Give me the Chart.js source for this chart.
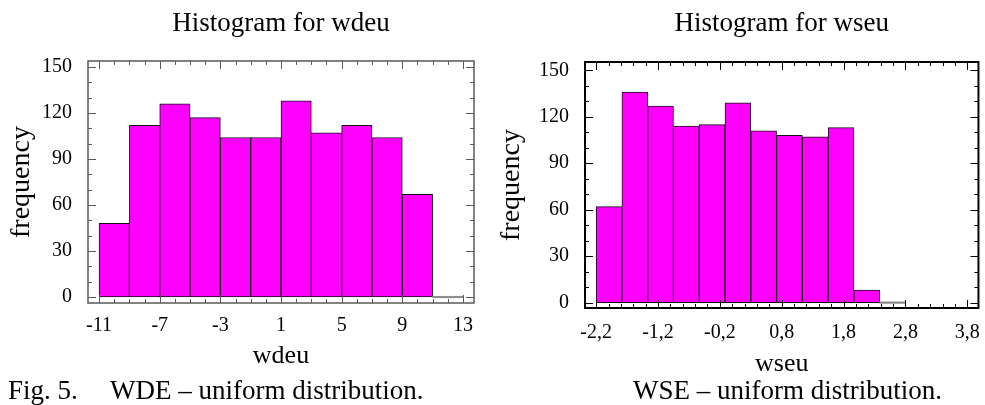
<!DOCTYPE html>
<html lang="en">
<head>
<meta charset="UTF-8">
<title>Histogram for wdeu / wseu</title>
<script src="https://cdn.jsdelivr.net/npm/chart.js"></script>
<style>
    body { margin: 0; background: #fff; width: 985px; height: 405px; overflow: hidden; position: relative; font-family: "Liberation Serif", serif; }
    .graph { position: absolute; top: 0; height: 380px; }
    #g1 { left: 0; width: 490px; }
    #g2 { left: 490px; width: 495px; }
    .legenda { position: absolute; top: 377px; font-size: 27px; line-height: 27px; color: #000; white-space: nowrap; }
</style>
</head>
<body>
<div class="graph" id="g1"><canvas id="chartWde"></canvas></div>
<div class="graph" id="g2"><canvas id="chartWse"></canvas></div>
<div class="legenda" style="left:8px">Fig. 5.</div>
<div class="legenda" style="left:110px">WDE – uniform distribution.</div>
<div class="legenda" style="left:633px">WSE – uniform distribution.</div>

<script>
// wdeu: bins of width 2 starting at -11 (centres)
const wdeCentros = [-10, -8, -6, -4, -2, 0, 2, 4, 6, 8, 10, 12];
const wdeFreq = [48, 112, 126, 117, 104, 104, 128, 107, 112, 104, 67, 0];
const wdeTicks = [-11, -7, -3, 1, 5, 9, 13];
const wdeTickLabels = ['-11', '-7', '-3', '1', '5', '9', '13'];

// wseu: 12 bins between -2,2 and 2,8 (centres)
const wseCentros = [-1.9917, -1.575, -1.1583, -0.7417, -0.325, 0.0917, 0.5083, 0.925, 1.3417, 1.7583, 2.175, 2.5917];
const wseFreq = [62, 136, 127, 114, 115, 129, 111, 108, 107, 113, 8, 0];
const wseTicks = [-2.2, -1.2, -0.2, 0.8, 1.8, 2.8, 3.8];
const wseTickLabels = ['-2,2', '-1,2', '-0,2', '0,8', '1,8', '2,8', '3,8'];

const freqTicks = [0, 30, 60, 90, 120, 150];
const freqTickLabels = ['0', '30', '60', '90', '120', '150'];

const FONTE = 'Liberation Serif';

// box around the plot with small inward ticks on all four sides
const moldura = {
    id: 'moldura',
    afterDatasetsDraw(chart, args, opts) {
        const a = chart.chartArea;
        const sx = chart.scales.x, sy = chart.scales.y;
        const c = chart.ctx;
        c.save();
        c.strokeStyle = opts.cor;
        c.lineWidth = 1;
        c.beginPath();
        for (let i = 0; ; i++) {
            const v = opts.xIni + i * opts.xPasso;
            if (v > sx.max + 1e-9) break;
            const px = Math.round(sx.getPixelForValue(v)) + 0.5;
            const t = i % opts.xDiv === 0 ? 8 : 4;
            c.moveTo(px, a.bottom); c.lineTo(px, a.bottom - t);
            c.moveTo(px, a.top); c.lineTo(px, a.top + t);
        }
        for (let i = 0; ; i++) {
            const v = opts.yIni + i * opts.yPasso;
            if (v > sy.max + 1e-9) break;
            const py = Math.round(sy.getPixelForValue(v)) + 0.5;
            const t = i % opts.yDiv === 0 ? 8 : 4;
            c.moveTo(a.left, py); c.lineTo(a.left + t, py);
            c.moveTo(a.right, py); c.lineTo(a.right - t, py);
        }
        c.stroke();
        c.lineWidth = opts.largura;
        c.strokeRect(a.left, a.top, a.right - a.left, a.bottom - a.top);
        c.restore();
    }
};

function histograma(id, cfg) {
    const ctx = document.getElementById(id).getContext('2d');
    return new Chart(ctx, {
        type: 'bar',
        data: {
            datasets: [{
                data: cfg.centros.map((x, i) => ({ x: x, y: cfg.freq[i] })),
                backgroundColor: c => (c.raw && c.raw.y === 0) ? '#8c8c8c' : '#ff00ff',
                borderColor: '#111',
                borderWidth: c => (c.raw && c.raw.y === 0) ? 0 : 1,
                borderSkipped: false,
                minBarLength: 1.5,
                barPercentage: 1,
                categoryPercentage: 1
            }]
        },
        options: {
            responsive: true,
            maintainAspectRatio: false,
            animation: false,
            layout: { padding: { left: 0, right: cfg.direita, top: 0, bottom: 0 } },
            plugins: {
                legend: { display: false },
                tooltip: { enabled: false },
                title: {
                    display: true,
                    text: cfg.titulo,
                    fullSize: false,
                    color: '#000',
                    font: { family: FONTE, size: 27, weight: 'normal' },
                    padding: { top: 8, bottom: cfg.topo - 8 - 32.4 }
                },
                moldura: cfg.moldura
            },
            scales: {
                x: {
                    type: 'linear',
                    offset: false,
                    min: cfg.xMin,
                    max: cfg.xMax,
                    grid: { display: false },
                    border: { display: false },
                    afterBuildTicks: s => { s.ticks = cfg.xTicks.map(v => ({ value: v })); },
                    afterFit: s => { s.height = 380 - cfg.base; },
                    ticks: {
                        autoSkip: false,
                        maxRotation: 0,
                        padding: cfg.xPad,
                        color: '#000',
                        font: { family: FONTE, size: 20 },
                        callback: (v, i) => cfg.xLabels[i]
                    },
                    title: {
                        display: true,
                        text: cfg.xTitulo,
                        color: '#000',
                        font: { family: FONTE, size: 26 },
                        padding: { top: 0, bottom: cfg.xTitPad }
                    }
                },
                y: {
                    min: cfg.yMin,
                    max: cfg.yMax,
                    grid: { display: false },
                    border: { display: false },
                    afterBuildTicks: s => { s.ticks = freqTicks.map(v => ({ value: v })); },
                    afterFit: s => { s.width = cfg.esquerda; },
                    ticks: {
                        padding: 8,
                        color: '#000',
                        font: { family: FONTE, size: 20 },
                        callback: (v, i) => freqTickLabels[i]
                    },
                    title: {
                        display: true,
                        text: 'frequency',
                        color: '#000',
                        font: { family: FONTE, size: 28 },
                        padding: { top: 5, bottom: 0 }
                    }
                }
            }
        },
        plugins: [moldura]
    });
}

histograma('chartWde', {
    titulo: 'Histogram for wdeu', xTitulo: 'wdeu',
    centros: wdeCentros, freq: wdeFreq, xTicks: wdeTicks, xLabels: wdeTickLabels,
    xMin: -11.73, xMax: 13.73, yMin: -3.9, yMax: 153.9,
    esquerda: 88, direita: 16, topo: 61, base: 303, xPad: 3, xTitPad: 8,
    moldura: { cor: '#5a5a5a', largura: 1.5, xIni: -11, xPasso: 1, xDiv: 4, yIni: 0, yPasso: 10, yDiv: 3 }
});

histograma('chartWse', {
    titulo: 'Histogram for wseu', xTitulo: 'wseu',
    centros: wseCentros, freq: wseFreq, xTicks: wseTicks, xLabels: wseTickLabels,
    xMin: -2.38, xMax: 3.98, yMin: -3.5, yMax: 155.4,
    esquerda: 95, direita: 4, topo: 62, base: 308, xPad: 5, xTitPad: 0,
    moldura: { cor: '#000', largura: 2, xIni: -2.2, xPasso: 0.2, xDiv: 5, yIni: 0, yPasso: 10, yDiv: 3 }
});
</script>
</body>
</html>
